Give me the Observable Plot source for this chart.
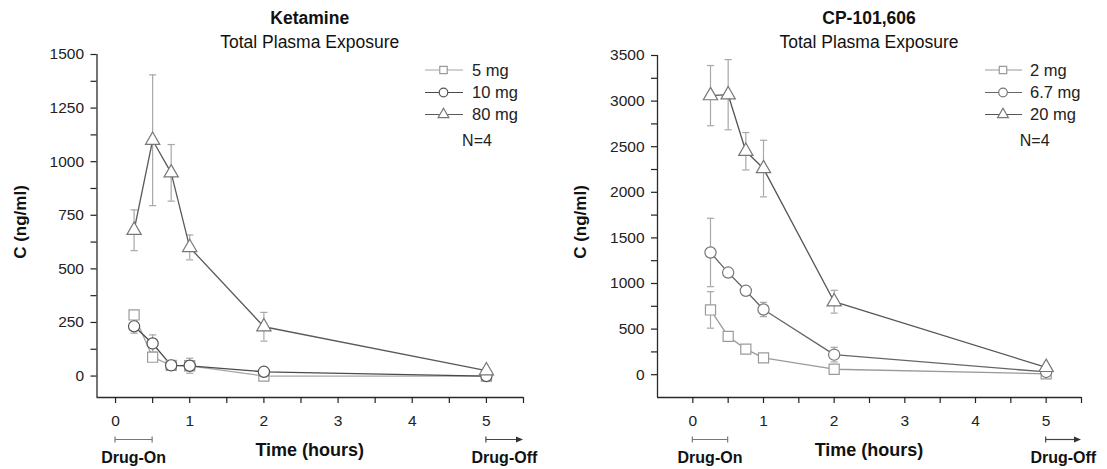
<!DOCTYPE html>
<html><head><meta charset="utf-8">
<script src="https://cdn.jsdelivr.net/npm/d3@7"></script>
<script src="https://cdn.jsdelivr.net/npm/@observablehq/plot@0.6"></script>
<style>
body{margin:0;background:#fff;font-family:"Liberation Sans",Arial,sans-serif}
#wrap{display:flex;width:1107px;height:469px;overflow:hidden}
svg{display:block;overflow:visible;flex:none}
</style>
</head><body><div id="wrap"></div>
<script>
// ---- data ----
const times = [0.25, 0.5, 0.75, 1, 2, 5];

const ketTitle = "Ketamine";
const ketSeries = ["5 mg", "10 mg", "80 mg"];
const ket5 = [285, 88, 50, 48, 0, 0];
const ket5sd = [8, 10, 8, 10, 4, 3];
const ket10 = [232, 152, 50, 48, 20, 0];
const ket10sd = [32, 40, 12, 35, 10, 4];
const ket80 = [680, 1100, 948, 600, 230, 25];
const ket80sd = [95, 305, 132, 58, 67, 15];
const ketYTicks = [0, 250, 500, 750, 1000, 1250, 1500];
const ketYMinor = [125, 375, 625, 875, 1125, 1375];
const ketYDomain = [-100, 1500];
const ketXDomain = [-0.25, 5.5];

const cpTitle = "CP-101,606";
const cpSeries = ["2 mg", "6.7 mg", "20 mg"];
const cp2 = [710, 420, 280, 185, 60, 10];
const cp2sd = [200, 22, 20, 40, 30, 6];
const cp67 = [1340, 1120, 920, 715, 220, 30];
const cp67sd = [375, 30, 30, 78, 80, 10];
const cp20 = [3060, 3070, 2450, 2260, 800, 80];
const cp20sd = [330, 385, 205, 310, 125, 20];
const cpYTicks = [0, 500, 1000, 1500, 2000, 2500, 3000, 3500];
const cpYMinor = [250, 750, 1250, 1750, 2250, 2750, 3250];
const cpYDomain = [-250, 3500];
const cpXDomain = [-0.5, 5.5];

const xTicks = [0, 1, 2, 3, 4, 5];
const xMinor = [0.5, 1.5, 2.5, 3.5, 4.5, 5.5];
const subtitle = "Total Plasma Exposure";
const yLabel = "C (ng/ml)";
const xLabel = "Time (hours)";
const nLabel = "N=4";
const drugOn = [0, 0.5];
const drugOff = [5, 5.5];

// ---- styles ----
const FONT = '"Liberation Sans", Arial, sans-serif';
const symbols = ["square", "circle", "triangle"];
const symR = [5.7, 5.6, 5.3];

const capSymbol = {
  draw(ctx, size) { const w = Math.sqrt(size / Math.PI); ctx.moveTo(-w, 0); ctx.lineTo(w, 0); }
};

function panel(cfg) {
  const rows = [];
  cfg.series.forEach((s, i) => {
    times.forEach((t, j) => rows.push({s, i, t, v: cfg.values[i][j], sd: cfg.sds[i][j]}));
  });
  const caps = rows.flatMap(d => [{...d, y: d.v + d.sd}, {...d, y: d.v - d.sd}]);
  const marks = [
    Plot.ruleX([cfg.xDomain[0]], {stroke: "#2a2a2a", strokeWidth: 1.3}),
    Plot.ruleY([cfg.yDomain[0]], {stroke: "#2a2a2a", strokeWidth: 1.3}),
    Plot.axisY(cfg.yTicks, {tickSize: 6, tickPadding: 7, tickFormat: d3.format("d"), fontSize: 15.5, color: "#222", strokeWidth: 1.2, label: null}),
    Plot.axisY(cfg.yMinor, {tickSize: 6, tickFormat: () => "", color: "#222", strokeWidth: 1.2, label: null}),
    Plot.axisX(xTicks, {tickSize: 6, tickPadding: 11, tickFormat: d3.format("d"), fontSize: 15.5, color: "#222", strokeWidth: 1.2, label: null}),
    Plot.axisX(xMinor, {tickSize: 6, tickFormat: () => "", color: "#222", strokeWidth: 1.2, label: null}),
    Plot.ruleX(rows, {x: "t", y1: d => d.v - d.sd, y2: d => d.v + d.sd, stroke: "#a8a8a8", strokeWidth: 1.2}),
    Plot.dot(caps, {x: "t", y: "y", symbol: capSymbol, r: 3.6, stroke: "#a8a8a8", fill: "none", strokeWidth: 1.2})
  ];
  cfg.series.forEach((s, i) => {
    const data = rows.filter(d => d.i === i);
    marks.push(Plot.line(data, {x: "t", y: "v", stroke: cfg.lineColors[i], strokeWidth: 1.3}));
  });
  cfg.series.forEach((s, i) => {
    const data = rows.filter(d => d.i === i);
    marks.push(Plot.dot(data, {x: "t", y: "v", symbol: symbols[i], r: symR[i], fill: "white", stroke: cfg.markColors[i], strokeWidth: 1.2}));
  });

  const plot = Plot.plot({
    width: cfg.width, height: 469,
    marginLeft: cfg.marginLeft, marginRight: cfg.marginRight, marginTop: cfg.marginTop, marginBottom: 72,
    style: {fontFamily: FONT, background: "white", overflow: "visible"},
    x: {domain: cfg.xDomain, label: null},
    y: {domain: cfg.yDomain, label: null},
    marks
  });

  const svg = d3.select(plot);
  const xs = plot.scale("x");
  const X = v => xs.apply(v);
  const cx = (cfg.marginLeft + cfg.width - cfg.marginRight) / 2;
  const g = svg.append("g").attr("font-family", FONT).attr("fill", "#111").attr("text-anchor", "start");

  g.append("text").attr("x", cx).attr("y", 24).attr("text-anchor", "middle")
    .attr("font-size", 17.5).attr("font-weight", "bold").text(cfg.title);
  g.append("text").attr("x", cx).attr("y", 48).attr("text-anchor", "middle")
    .attr("font-size", 17.5).text(subtitle);
  g.append("text").attr("transform", `translate(${cfg.yLabelX},222) rotate(-90)`)
    .attr("text-anchor", "middle").attr("font-size", 17).attr("font-weight", "bold").text(yLabel);
  g.append("text").attr("x", cx).attr("y", 456).attr("text-anchor", "middle")
    .attr("font-size", 18).attr("font-weight", "bold").text(xLabel);

  // Drug-On bracket
  const by = 439.5;
  const on = g.append("g").attr("stroke", "#777").attr("stroke-width", 1.2);
  on.append("line").attr("x1", X(drugOn[0])).attr("x2", X(drugOn[1])).attr("y1", by).attr("y2", by);
  on.append("line").attr("x1", X(drugOn[0])).attr("x2", X(drugOn[0])).attr("y1", by - 3).attr("y2", by + 3);
  on.append("line").attr("x1", X(drugOn[1])).attr("x2", X(drugOn[1])).attr("y1", by - 3).attr("y2", by + 3);
  g.append("text").attr("x", X((drugOn[0] + drugOn[1]) / 2)).attr("y", 463).attr("text-anchor", "middle")
    .attr("font-size", 16).attr("font-weight", "bold").text("Drug-On");
  // Drug-Off arrow
  const off = g.append("g").attr("stroke", "#444").attr("stroke-width", 1.2);
  const ax2 = X(drugOff[1]);
  off.append("line").attr("x1", X(drugOff[0])).attr("x2", ax2 - 5).attr("y1", by).attr("y2", by);
  off.append("line").attr("x1", X(drugOff[0])).attr("x2", X(drugOff[0])).attr("y1", by - 3).attr("y2", by + 3);
  g.append("path").attr("d", `M${ax2},${by} L${ax2 - 7},${by - 3} L${ax2 - 7},${by + 3} Z`).attr("fill", "#333");
  g.append("text").attr("x", X((drugOff[0] + drugOff[1]) / 2)).attr("y", 463).attr("text-anchor", "middle")
    .attr("font-size", 16).attr("font-weight", "bold").text("Drug-Off");

  // legend
  const L = cfg.legend;
  const legY = [70, 92.5, 114.5];
  const legR = [4.2, 4.3, 4.0];
  cfg.series.forEach((s, i) => {
    const y = legY[i];
    g.append("line").attr("x1", L.x1).attr("x2", L.x2).attr("y1", y).attr("y2", y)
      .attr("stroke", cfg.lineColors[i]).attr("stroke-width", 1.2);
    const sym = [d3.symbolSquare, d3.symbolCircle, d3.symbolTriangle][i];
    g.append("path").attr("d", d3.symbol(sym, Math.PI * legR[i] * legR[i])())
      .attr("transform", `translate(${L.xm},${y})`).attr("fill", "white")
      .attr("stroke", cfg.markColors[i]).attr("stroke-width", 1.2);
    g.append("text").attr("x", L.tx).attr("y", y).attr("dy", "0.36em").attr("text-anchor", "start")
      .attr("font-size", 16.5).attr("fill", "#222").text(s);
  });
  g.append("text").attr("x", L.nx).attr("y", 140).attr("dy", "0.36em").attr("text-anchor", "middle")
    .attr("font-size", 16).attr("fill", "#222").text(nLabel);
  return plot;
}

const wrap = document.getElementById("wrap");
wrap.appendChild(panel({
  title: ketTitle, series: ketSeries,
  values: [ket5, ket10, ket80], sds: [ket5sd, ket10sd, ket80sd],
  yTicks: ketYTicks, yMinor: ketYMinor, yDomain: ketYDomain, xDomain: ketXDomain,
  width: 553, marginLeft: 96.5, marginRight: 30, marginTop: 54, yLabelX: 26,
  lineColors: ["#a6a6a6", "#4a4a4a", "#5a5a5a"],
  markColors: ["#9a9a9a", "#555", "#777"],
  legend: {x1: 425, x2: 463, xm: 443.5, tx: 472, nx: 477}
}));
wrap.appendChild(panel({
  title: cpTitle, series: cpSeries,
  values: [cp2, cp67, cp20], sds: [cp2sd, cp67sd, cp20sd],
  yTicks: cpYTicks, yMinor: cpYMinor, yDomain: cpYDomain, xDomain: cpXDomain,
  width: 554, marginLeft: 104, marginRight: 26, marginTop: 55, yLabelX: 33,
  lineColors: ["#9a9a9a", "#666", "#555"],
  markColors: ["#9a9a9a", "#777", "#777"],
  legend: {x1: 985 - 553, x2: 1022 - 553, xm: 1003 - 553, tx: 1030 - 553, nx: 1034.7 - 553}
}));
</script>
</body></html>
